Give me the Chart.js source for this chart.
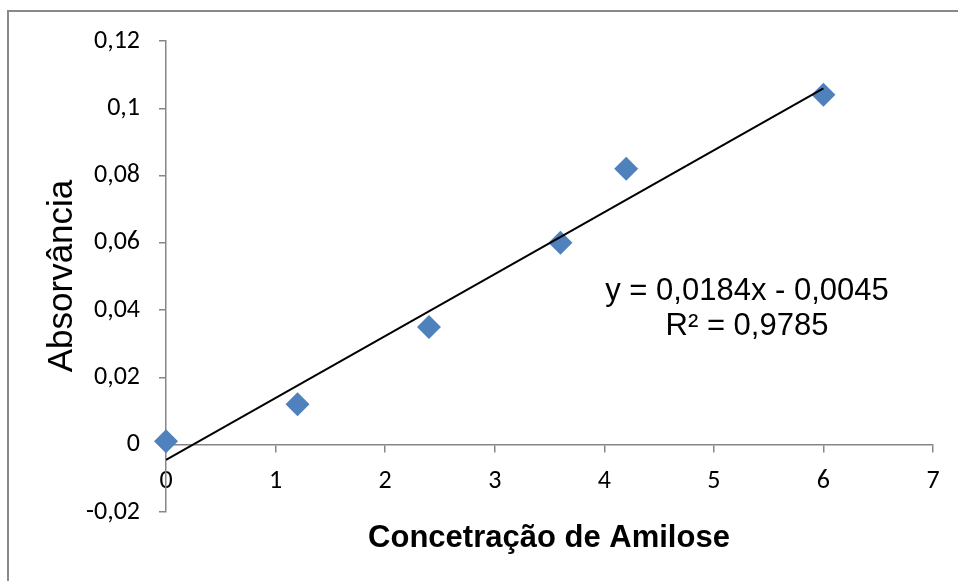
<!DOCTYPE html>
<html>
<head>
<meta charset="utf-8">
<script src="https://cdn.jsdelivr.net/npm/chart.js@4"></script>
<style>
  html, body { margin: 0; padding: 0; background: #fff; }
  #wrap { position: relative; width: 958px; height: 581px; }
</style>
</head>
<body>
<div id="wrap"><canvas id="chart" width="958" height="581"></canvas></div>
<script>
// Amylose calibration curve: measured points + linear trendline
const concentrations = [0, 1.2, 2.4, 3.6, 4.2, 6];
const absorbances    = [0.001, 0.012, 0.035, 0.060, 0.082, 0.104];

// trendline end points (matches the printed equation)
const trendX = [0, 6];
const trendY = [-0.0045, 0.1059];

const xTicks = [0, 1, 2, 3, 4, 5, 6, 7];
const yTicks = [-0.02, 0, 0.02, 0.04, 0.06, 0.08, 0.1, 0.12];

const equationLines = ['y = 0,0184x - 0,0045', 'R² = 0,9785'];
const xTitle = 'Concetração de Amilose';
const yTitle = 'Absorvância';

const AXIS_GRAY = '#868686';
const TICK_FONT = { family: 'Carlito, Lato, sans-serif', size: 26 };

const fmt = v => String(Math.round(v * 100) / 100).replace('.', ',');

// frame, titles and equation text
const decorations = {
  id: 'decorations',
  beforeDraw(chart) {
    const ctx = chart.ctx;
    ctx.save();
    ctx.fillStyle = '#fff';
    ctx.fillRect(0, 0, chart.width, chart.height);
    ctx.strokeStyle = '#898989';
    ctx.lineWidth = 2;
    ctx.beginPath();
    ctx.moveTo(8, chart.height);
    ctx.lineTo(8, 11);
    ctx.lineTo(chart.width, 11);
    ctx.stroke();
    ctx.restore();
  },
  afterDraw(chart) {
    const ctx = chart.ctx;
    ctx.save();
    ctx.fillStyle = '#000';
    ctx.textAlign = 'center';
    ctx.textBaseline = 'alphabetic';

    ctx.font = '31px "Liberation Sans", Arial, sans-serif';
    ctx.fillText(equationLines[0], 747, 300);
    ctx.fillText(equationLines[1], 747, 335);

    ctx.font = 'bold 31px "Liberation Sans", Arial, sans-serif';
    ctx.fillText(xTitle, 549, 547);

    ctx.font = '35px "Liberation Sans", Arial, sans-serif';
    ctx.translate(72, 276);
    ctx.rotate(-Math.PI / 2);
    ctx.fillText(yTitle, 0, 0);
    ctx.restore();
  }
};

new Chart(document.getElementById('chart'), {
  type: 'scatter',
  data: {
    datasets: [
      {
        label: 'Linear',
        data: trendX.map((x, i) => ({ x, y: trendY[i] })),
        showLine: true,
        borderColor: '#000',
        borderWidth: 2,
        pointRadius: 0,
        fill: false,
        order: 0
      },
      {
        label: 'Absorvância',
        data: concentrations.map((x, i) => ({ x, y: absorbances[i] })),
        pointStyle: 'rectRot',
        pointRadius: 12,
        backgroundColor: '#4F81BD',
        borderColor: '#4F81BD',
        borderWidth: 0,
        clip: false,
        order: 1
      }
    ]
  },
  options: {
    responsive: false,
    animation: false,
    layout: { padding: { left: 0, top: 41, right: 25, bottom: 69 } },
    plugins: {
      legend: { display: false },
      tooltip: { enabled: false }
    },
    scales: {
      x: {
        type: 'linear',
        position: { y: 0 },
        min: 0,
        max: 7,
        afterBuildTicks: s => { s.ticks = xTicks.map(v => ({ value: v })); },
        afterFit: s => { s.height = 0; },
        border: { color: AXIS_GRAY, width: 1.5 },
        grid: { drawOnChartArea: false, tickLength: 7, color: AXIS_GRAY, lineWidth: 1.5 },
        ticks: { color: '#000', font: TICK_FONT, padding: 14, maxRotation: 0, callback: v => fmt(v) }
      },
      y: {
        type: 'linear',
        min: -0.02,
        max: 0.12,
        afterBuildTicks: s => { s.ticks = yTicks.map(v => ({ value: v })); },
        afterFit: s => { s.width = 166; },
        border: { color: AXIS_GRAY, width: 1.5 },
        grid: { drawOnChartArea: false, tickLength: 7, color: AXIS_GRAY, lineWidth: 1.5 },
        ticks: { color: '#000', font: TICK_FONT, padding: 19, callback: v => fmt(v) }
      }
    }
  },
  plugins: [decorations]
});
</script>
</body>
</html>
